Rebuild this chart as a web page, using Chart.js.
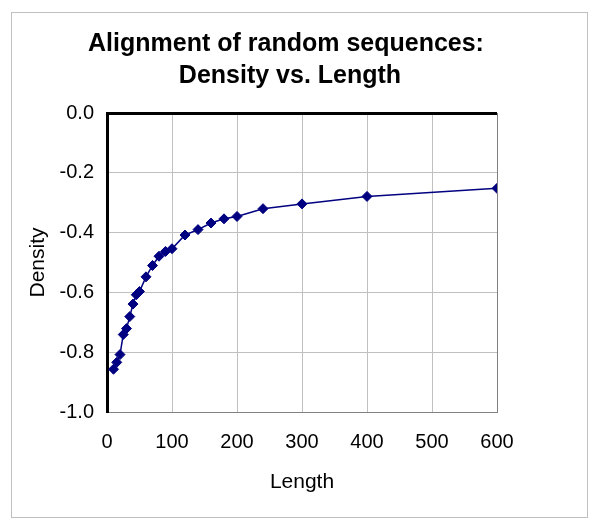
<!DOCTYPE html>
<html>
<head>
<meta charset="utf-8">
<script src="https://cdn.jsdelivr.net/npm/chart.js@4"></script>
<style>
  body { margin: 0; background: #fff; }
</style>
</head>
<body>
<canvas id="myChart" width="600" height="531"></canvas>
<script>
const lengths = [10, 15, 20, 25, 30, 35, 40, 45, 50, 60, 70, 80, 90, 100, 120, 140, 160, 180, 200, 240, 300, 400, 600]
const densities = [-0.857, -0.834, -0.808, -0.741, -0.721, -0.681, -0.639, -0.608, -0.597, -0.548, -0.51, -0.479, -0.463, -0.454, -0.408, -0.39, -0.368, -0.354, -0.346, -0.32, -0.304, -0.279, -0.252]
const titleLines = ['Alignment of random sequences:', 'Density vs. Length']

const fontFamily = '"Liberation Sans", Arial, sans-serif'

// outer frame and the two-line title (title sits off-centre from the plot, as in the original)
const frame = {
    id: 'frame',
    beforeDraw(chart) {
        const c = chart.ctx
        c.save()
        c.strokeStyle = '#c0c0c0'
        c.lineWidth = 1
        c.strokeRect(11.5, 12.5, 576, 505)
        c.restore()
    },
    afterDraw(chart) {
        const c = chart.ctx
        c.save()
        c.fillStyle = '#000'
        c.font = 'bold 25px ' + fontFamily
        c.textAlign = 'center'
        c.textBaseline = 'middle'
        c.fillText(titleLines[0], 286, 44)
        c.fillText(titleLines[1], 290, 76)
        c.restore()
    }
}

const points = []
for (let i = 0; i < lengths.length; i++) {
    points.push({x: lengths[i], y: densities[i]})
}

const ctx = document.getElementById('myChart')
const myChart = new Chart(ctx, {
    type: 'scatter',
    data: {
        datasets: [{
            data: points,
            showLine: true,
            borderColor: '#000080',
            backgroundColor: '#000080',
            borderWidth: 1.5,
            pointStyle: 'rectRot',
            pointRadius: 5,
            pointBorderWidth: 1
        }]
    },
    options: {
        responsive: false,
        animation: false,
        layout: {
            padding: {left: 14, right: 103, top: 113, bottom: 0}
        },
        plugins: {
            legend: {display: false},
            tooltip: {enabled: false},
            title: {display: false}
        },
        scales: {
            x: {
                type: 'linear',
                min: 0,
                max: 600,
                ticks: {
                    stepSize: 100,
                    color: '#000',
                    font: {family: fontFamily, size: 20},
                    padding: 18,
                    maxRotation: 0
                },
                grid: {
                    drawTicks: false,
                    color: c => c.tick && c.tick.value === 600 ? '#808080' : '#c0c0c0',
                    lineWidth: 1
                },
                border: {color: '#808080', width: 1},
                title: {
                    display: true,
                    text: 'Length',
                    color: '#000',
                    font: {family: fontFamily, size: 21},
                    padding: {top: 8, bottom: 36}
                },
                afterFit: scale => { scale.height = 119 }
            },
            y: {
                min: -1,
                max: 0,
                ticks: {
                    stepSize: 0.2,
                    color: '#000',
                    font: {family: fontFamily, size: 20},
                    padding: 13,
                    callback: v => v.toFixed(1)
                },
                grid: {
                    drawTicks: false,
                    color: c => {
                        if (!c.tick) return '#c0c0c0'
                        if (Math.abs(c.tick.value) < 1e-9) return '#000'
                        if (c.tick.value <= -0.999) return '#808080'
                        return '#c0c0c0'
                    },
                    lineWidth: c => c.tick && Math.abs(c.tick.value) < 1e-9 ? 3 : 1
                },
                border: {color: '#000', width: 3},
                title: {
                    display: true,
                    text: 'Density',
                    color: '#000',
                    font: {family: fontFamily, size: 21},
                    padding: {top: 12, bottom: 0}
                },
                afterFit: scale => { scale.width = 107 - 14 }
            }
        }
    },
    plugins: [frame]
})
</script>
</body>
</html>
